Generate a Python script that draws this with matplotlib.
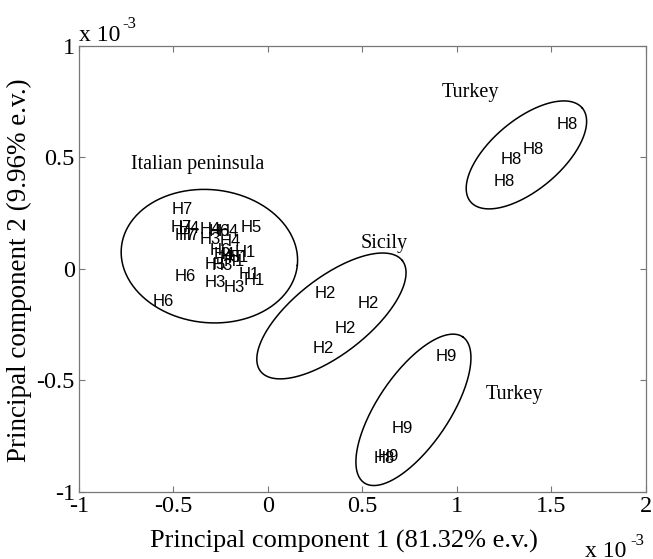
import numpy as np
from matplotlib import pyplot as plt

# PCA scores (units of 1e-3)
labels = ["H7", "H7", "H4", "H4", "H6", "H4", "H7", "H7", "H3", "H4", "H5",
          "H6", "H4", "H1", "H1", "H5", "H1", "H5", "H3", "H6", "H6", "H3",
          "H3", "H1", "H1",
          "H2", "H2", "H2", "H2",
          "H8", "H8", "H8", "H8",
          "H9", "H9", "H9", "H8"]
pc1 = [-0.510, -0.513, -0.475, -0.360, -0.312, -0.265, -0.492, -0.471, -0.360,
       -0.254, -0.144, -0.307, -0.286, -0.175, -0.212, -0.254, -0.233, -0.337,
       -0.296, -0.496, -0.612, -0.337, -0.233, -0.157, -0.127,
       0.249, 0.473, 0.354, 0.236,
       1.529, 1.349, 1.233, 1.196,
       0.889, 0.654, 0.578, 0.557]
pc2 = [0.268, 0.185, 0.179, 0.175, 0.166, 0.166, 0.148, 0.148, 0.130,
       0.121, 0.187, 0.081, 0.063, 0.072, 0.049, 0.049, 0.031, 0.018,
       0.013, -0.035, -0.147, -0.061, -0.082, -0.027, -0.052,
       -0.109, -0.157, -0.266, -0.359,
       0.646, 0.534, 0.489, 0.390,
       -0.393, -0.717, -0.839, -0.852]

# group ellipses: centre, semi-axes (x units), screen angle (deg)
ell_cx = [-0.310, 0.336, 1.368, 0.770]
ell_cy = [0.057, -0.211, 0.511, -0.632]
ell_a = [0.468, 0.476, 0.386, 0.466]
ell_b = [0.352, 0.201, 0.185, 0.190]
ell_ang = [-6, 38, 40, 56]

groups = ["Italian peninsula", "Sicily", "Turkey", "Turkey"]
group_x = [-0.724, 0.492, 0.921, 1.153]
group_y = [0.466, 0.112, 0.789, -0.561]

serif = "Liberation Serif"
sans = "Liberation Sans"

fig = plt.figure(figsize=(6.53, 5.59), dpi=100)
ax = fig.add_axes([0.121, 0.12, 0.868, 0.798])
ax.set_xlim(-1, 2)
ax.set_ylim(-1, 1)

# pixels per data unit, used to keep ellipses right in screen space
pos = ax.get_position()
px_x = pos.width * fig.get_figwidth() * fig.dpi / 3.0
px_y = pos.height * fig.get_figheight() * fig.dpi / 2.0

t = np.linspace(0, 2 * np.pi, 300)
for i in range(len(ell_cx)):
    th = np.radians(ell_ang[i])
    dx = ell_a[i] * np.cos(t) * np.cos(th) - ell_b[i] * np.sin(t) * np.sin(th)
    dy = ell_a[i] * np.cos(t) * np.sin(th) + ell_b[i] * np.sin(t) * np.cos(th)
    ax.plot(ell_cx[i] + dx, ell_cy[i] + dy * px_x / px_y, color="black", lw=1.1)

for lab, x, y in zip(labels, pc1, pc2):
    ax.text(x, y, lab, ha="left", va="center", fontsize=12, family=sans)

for g, x, y in zip(groups, group_x, group_y):
    ax.text(x, y, g, ha="left", va="center", fontsize=14.5, family=serif)

ax.set_xticks([-1, -0.5, 0, 0.5, 1, 1.5, 2])
ax.set_xticklabels(["-1", "-0.5", "0", "0.5", "1", "1.5", "2"])
ax.set_yticks([-1, -0.5, 0, 0.5, 1])
ax.set_yticklabels(["-1", "-0.5", "0", "0.5", "1"])
ax.tick_params(direction="in", length=4, color="#777777", top=True, right=True,
               labelsize=17.5, pad=3)
for lab in ax.get_xticklabels() + ax.get_yticklabels():
    lab.set_family(serif)
for s in ax.spines.values():
    s.set_color("#777777")
    s.set_linewidth(0.9)

ax.set_xlabel("Principal component 1 (81.32% e.v.)", family=serif, fontsize=19,
              ha="center", va="center")
ax.set_ylabel("Principal component 2 (9.96% e.v.)", family=serif, fontsize=19.5,
              ha="center", va="center")
ax.xaxis.set_label_coords(0.467, -0.11)
ax.yaxis.set_label_coords(-0.106, 0.497)

ax.text(0.0, 1.011, "x 10", transform=ax.transAxes, family=serif, fontsize=17,
        ha="left", va="baseline")
ax.text(0.076, 1.040, "-3", transform=ax.transAxes, family=serif, fontsize=12,
        ha="left", va="baseline")
ax.text(0.892, -0.146, "x 10", transform=ax.transAxes, family=serif, fontsize=17,
        ha="left", va="baseline")
ax.text(0.972, -0.119, "-3", transform=ax.transAxes, family=serif, fontsize=12,
        ha="left", va="baseline")

fig.savefig("out.png", dpi=100)
